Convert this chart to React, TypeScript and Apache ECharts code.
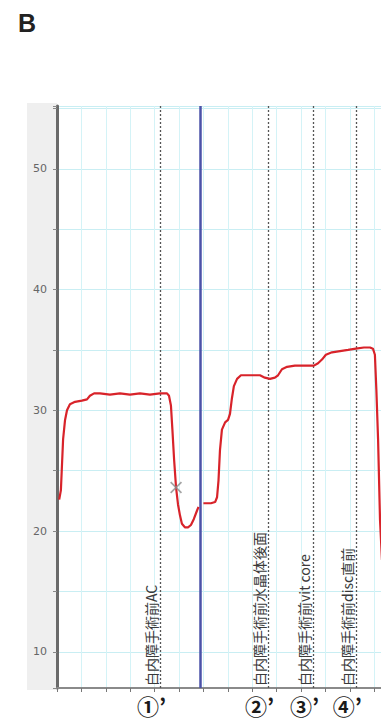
import React, { useEffect, useRef } from "react";
import * as echarts from "echarts";

// Segment before the blue line (x in grid units, y in axis units)
const timeA = [0.09, 0.16, 0.25, 0.33, 0.41, 0.53, 0.74, 1.02, 1.23, 1.35, 1.52, 1.76, 2.17, 2.58, 2.99, 3.4, 3.81, 4.22, 4.51, 4.59, 4.67, 4.73, 4.8, 4.88, 4.96, 5.04, 5.12, 5.25, 5.37, 5.49, 5.61, 5.74, 5.8];
const valueA = [22.6, 23.4, 27.6, 29.2, 30.0, 30.5, 30.7, 30.8, 30.9, 31.2, 31.4, 31.4, 31.3, 31.4, 31.3, 31.4, 31.3, 31.4, 31.4, 31.2, 30.4, 28.4, 25.9, 23.6, 22.2, 21.3, 20.6, 20.3, 20.3, 20.5, 21.0, 21.7, 22.0];

// Segment after the blue line
const timeB = [6.0, 6.15, 6.31, 6.48, 6.56, 6.62, 6.68, 6.76, 6.89, 7.01, 7.09, 7.17, 7.25, 7.38, 7.54, 7.83, 8.11, 8.32, 8.52, 8.73, 8.93, 9.06, 9.22, 9.43, 9.75, 10.16, 10.53, 10.7, 10.86, 11.02, 11.27, 11.6, 11.93, 12.25, 12.58, 12.83, 12.95, 13.03, 13.09, 13.16, 13.24, 13.32];
const valueB = [22.3, 22.3, 22.3, 22.4, 22.8, 24.2, 26.7, 28.4, 29.0, 29.2, 29.7, 31.0, 32.0, 32.6, 32.9, 32.9, 32.9, 32.9, 32.7, 32.6, 32.7, 32.9, 33.4, 33.6, 33.7, 33.7, 33.7, 33.9, 34.2, 34.6, 34.8, 34.9, 35.0, 35.1, 35.2, 35.2, 35.1, 34.6, 31.7, 27.6, 20.9, 17.6];

const crossTime = [4.88];
const crossValue = [23.6];

const blueLineTime = 5.86;
const eventTimes = [4.22, 8.65, 10.49, 12.25];
const eventLabels = ["白内障手術前AC", "白内障手術前水晶体後面", "白内障手術前vit core", "白内障手術前disc直前"];
const eventMarks = ["①’", "②’", "③’", "④’"];

const CJK = '"Noto Sans CJK JP", "Noto Sans CJK SC", sans-serif';

export default function App() {
  const ref = useRef<HTMLDivElement>(null);
  useEffect(() => {
    if (!ref.current) return;
    const chart = echarts.init(ref.current, null, { renderer: "svg" });
    const redStyle = { color: "#d8232a", width: 2.2 };
    const option: any = {
      animation: false,
      backgroundColor: "#ffffff",
      grid: { left: 57, right: 0, top: 106, bottom: 33 },
      xAxis: {
        type: "value",
        min: 0,
        max: 13.28,
        splitNumber: 13,
        axisLine: { show: true, lineStyle: { color: "#8a8a8a", width: 2 } },
        axisTick: { show: true, length: 4, lineStyle: { color: "#777" } },
        axisLabel: { show: false },
        splitLine: { show: true, lineStyle: { color: "#d4f3f7", width: 1 } },
      },
      yAxis: {
        type: "value",
        min: 7,
        max: 55.2,
        splitNumber: 10,
        axisLine: { show: true, onZero: false, lineStyle: { color: "#6a6a6a", width: 3 } },
        axisTick: { show: true, length: 4, lineStyle: { color: "#888" } },
        axisLabel: {
          color: "#666",
          fontSize: 11,
          fontFamily: "DejaVu Sans",
          margin: 10,
          formatter: (v: number) => (Math.abs(v % 10) < 1e-6 ? String(v) : ""),
        },
        splitLine: { show: true, lineStyle: { color: "#c9eef3", width: 1 } },
      },
      series: [
        {
          type: "line",
          data: timeA.map((t, i) => [t, valueA[i]]),
          showSymbol: false,
          lineStyle: redStyle,
          z: 5,
          markLine: {
            silent: true,
            animation: false,
            symbol: ["none", "none"],
            lineStyle: { color: "#555", type: [2, 2], width: 1.3 },
            label: {
              show: true,
              position: "insideStartTop",
              distance: 2,
              color: "#3a3a3a",
              fontSize: 14,
              fontFamily: CJK,
            },
            data: eventTimes.map((t, i) => ({ xAxis: t, label: { formatter: eventLabels[i] } })),
          },
        },
        {
          type: "line",
          data: timeB.map((t, i) => [t, valueB[i]]),
          showSymbol: false,
          lineStyle: redStyle,
          z: 5,
          markLine: {
            silent: true,
            animation: false,
            symbol: ["none", "none"],
            lineStyle: { color: "#4b52a8", type: "solid", width: 2.5 },
            label: { show: false },
            data: [{ xAxis: blueLineTime }],
          },
        },
        {
          type: "scatter",
          data: crossTime.map((t, i) => [t, crossValue[i]]),
          symbol: "path://M0,1L1,0L10,9L9,10ZM9,0L10,1L1,10L0,9Z",
          symbolSize: 12,
          itemStyle: { color: "#8c8c8c" },
          z: 6,
        },
      ],
    };
    chart.setOption(option);
    const baseGraphics: any[] = [
      {
        type: "rect",
        id: "band",
        z: -10,
        shape: { x: 27, y: 103, width: 30, height: 587 },
        style: { fill: "#efefef" },
        silent: true,
      },
      {
        type: "text",
        id: "title",
        x: 18,
        y: 10,
        style: { text: "B", fontSize: 25, fontWeight: "bold", fontFamily: "Liberation Sans, Arial", fill: "#222" },
      },
    ];
    const markGraphics = eventTimes.map((t, i) => {
      const px = chart.convertToPixel({ xAxisIndex: 0 }, t) as number;
      return {
        type: "text",
        id: "mark" + i,
        x: px - 23,
        y: 705,
        style: {
          text: eventMarks[i],
          fontSize: 22,
          fontWeight: "bold",
          fontFamily: CJK,
          fill: "#1a1a1a",
          verticalAlign: "middle",
        },
      };
    });
    chart.setOption({ graphic: [...baseGraphics, ...markGraphics] });
    return () => chart.dispose();
  }, []);
  return (
    <div
      ref={ref}
      style={{ position: "fixed", left: 0, top: 0, width: 381, height: 721, background: "#fff" }}
    />
  );
}
